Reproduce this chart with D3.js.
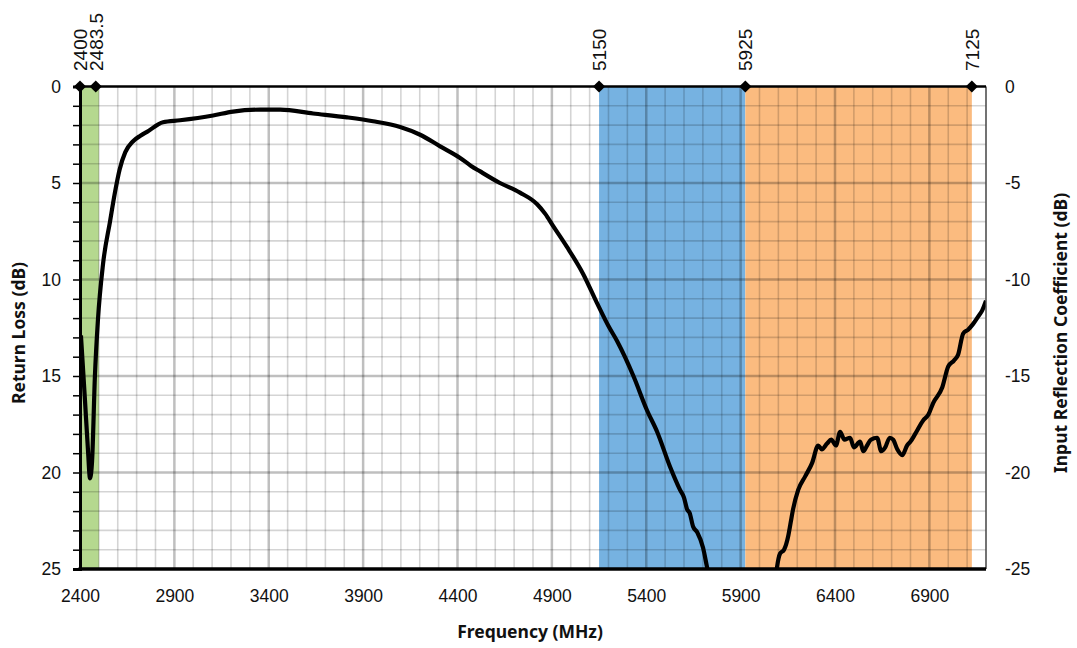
<!DOCTYPE html>
<html>
<head>
<meta charset="utf-8">
<script src="https://cdn.jsdelivr.net/npm/d3@7"></script>
<style>
  body { margin: 0; background: #fff; }
  text { font-family: "Liberation Sans", Arial, sans-serif; fill: #111; }
  .title { font-family: "Noto Sans", sans-serif; font-weight: 700; font-size: 17.5px; }
</style>
</head>
<body>
<svg id="chart"></svg>
<script>
// frequency (MHz) and return loss (dB)
var freq = [2405, 2426, 2442, 2453, 2464, 2479, 2495, 2522, 2559, 2585, 2610, 2640, 2680, 2720, 2755, 2840, 2930,
  3105, 3211, 3354, 3460, 3635, 3815, 3953, 4096, 4202, 4308, 4414, 4470, 4520, 4625, 4731, 4822,
  4865, 4908, 4979, 5065, 5138, 5199, 5246, 5332, 5405, 5458, 5526, 5579, 5600, 5616, 5630, 5648, 5670,
  5701, 5722, 5760, 5900, 6000, 6080, 6093, 6109, 6130, 6152, 6165, 6178, 6205, 6242, 6279, 6311, 6330, 6358,
  6380, 6405, 6427, 6450, 6480, 6500, 6533, 6550, 6570, 6590, 6623, 6645, 6666, 6690, 6708, 6730,
  6756, 6782, 6800, 6825, 6867, 6895, 6920, 6968, 7000, 7030, 7052, 7079, 7105, 7132, 7160, 7180, 7200];
var returnLoss = [12.9, 16.2, 18.8, 20.3, 19.4, 15.0, 12.1, 9.2, 7.0, 5.5, 4.3, 3.4, 2.85, 2.55, 2.35, 1.85, 1.75,
  1.5, 1.3, 1.2, 1.2, 1.4, 1.6, 1.8, 2.1, 2.5, 3.1, 3.7, 4.1, 4.4, 5.0, 5.5, 6.1,
  6.6, 7.25, 8.3, 9.7, 11.2, 12.4, 13.2, 15.0, 16.8, 17.9, 19.7, 20.9, 21.3, 21.9, 22.1, 22.8, 23.1,
  23.9, 24.9, 26.5, 30, 29, 26, 24.9, 24.2, 24.0, 23.3, 22.6, 21.9, 20.9, 20.2, 19.5, 18.6, 18.8, 18.5,
  18.3, 18.6, 17.9, 18.3, 18.2, 18.7, 18.4, 18.9, 18.6, 18.3, 18.2, 18.9, 18.7, 18.2, 18.3, 18.8,
  19.1, 18.6, 18.4, 18.0, 17.3, 17.0, 16.4, 15.6, 14.5, 14.2, 13.9, 12.8, 12.6, 12.3, 11.9, 11.6, 11.1];

var bandStart = [2400, 5150, 5925];
var bandEnd = [2500, 5925, 7125];
var bandColor = ["#b5d88f", "#76b2e1", "#fbbb7f"];
var markers = [2400, 2483.5, 5150, 5925, 7125];
var markerLabels = ["2400", "2483.5", "5150", "5925", "7125"];
var xTicks = [2400, 2900, 3400, 3900, 4400, 4900, 5400, 5900, 6400, 6900];
var yTicks = [0, 5, 10, 15, 20, 25];

var width = 1077, height = 648;
var pLeft = 80, pRight = 986, pTop = 86.5, pBottom = 569;

var svg = d3.select("#chart").attr("width", width).attr("height", height);
svg.append("rect").attr("width", width).attr("height", height).attr("fill", "#fff");

var x = d3.scaleLinear().domain([2400, 7200]).range([pLeft, pRight]);
var y = d3.scaleLinear().domain([0, 25]).range([pTop, pBottom]);
var y2 = d3.scaleLinear().domain([0, -25]).range([pTop, pBottom]);

// bands
svg.append("g").selectAll("rect")
  .data(bandStart)
  .enter()
  .append("rect")
  .attr("x", (d, i) => x(d))
  .attr("width", (d, i) => x(bandEnd[i]) - x(d))
  .attr("y", pTop)
  .attr("height", pBottom - pTop)
  .attr("fill", (d, i) => bandColor[i])

// grid
var grid = svg.append("g")
d3.range(2500, 7200, 100).forEach(function(f) {
  var major = (f - 2400) % 500 == 0
  grid.append("line")
    .attr("x1", x(f)).attr("x2", x(f)).attr("y1", pTop).attr("y2", pBottom)
    .attr("stroke", major ? "rgba(0,0,0,0.25)" : "rgba(0,0,0,0.17)")
    .attr("stroke-width", major ? 2.5 : 1.6)
})
d3.range(1, 25, 1).forEach(function(v) {
  var major = v % 5 == 0
  grid.append("line")
    .attr("x1", pLeft).attr("x2", pRight).attr("y1", y(v)).attr("y2", y(v))
    .attr("stroke", major ? "rgba(0,0,0,0.25)" : "rgba(0,0,0,0.17)")
    .attr("stroke-width", major ? 2.5 : 1.6)
})

// curve
svg.append("clipPath").attr("id", "plot")
  .append("rect").attr("x", pLeft).attr("y", pTop).attr("width", pRight - pLeft).attr("height", pBottom - pTop)

var line = d3.line()
  .x((d, i) => x(freq[i]))
  .y((d, i) => y(returnLoss[i]))
  .curve(d3.curveMonotoneX)

svg.append("path")
  .datum(returnLoss)
  .attr("d", line)
  .attr("clip-path", "url(#plot)")
  .attr("fill", "none")
  .attr("stroke", "#000")
  .attr("stroke-width", 4.2)
  .attr("stroke-linejoin", "round")

// frame
svg.append("line").attr("x1", pRight).attr("x2", pRight).attr("y1", pTop).attr("y2", pBottom)
  .attr("stroke", "#444").attr("stroke-width", 1.5)
svg.append("line").attr("x1", pLeft).attr("x2", pRight).attr("y1", pTop).attr("y2", pTop)
  .attr("stroke", "#000").attr("stroke-width", 2.5)

// left axis
var yAxis = d3.axisLeft(y).tickValues(d3.range(0, 26, 1)).tickSize(7)
  .tickFormat(d => yTicks.includes(d) ? d : "")
var gy = svg.append("g").attr("transform", "translate(" + pLeft + ",0)").call(yAxis)
gy.select(".domain").attr("stroke-width", 3)
gy.selectAll(".tick line").attr("stroke-width", 1.5)
gy.selectAll("text").attr("font-size", 17.5).attr("x", -19).attr("font-family", "Liberation Sans, Arial, sans-serif").attr("fill", "#111")

// right labels
svg.append("g").selectAll("text")
  .data(yTicks.map(d => -d))
  .enter()
  .append("text")
  .attr("x", 1005)
  .attr("y", d => y2(d))
  .attr("dy", "0.35em")
  .attr("font-size", 17.5)
  .text(d => d)

// bottom axis
var xAxis = d3.axisBottom(x).tickValues(xTicks).tickSize(0).tickPadding(21).tickFormat(d3.format("d"))
var gx = svg.append("g").attr("transform", "translate(0," + pBottom + ")").call(xAxis)
gx.select(".domain").attr("stroke-width", 3.5).attr("d", "M" + (pLeft - 1.5) + ",0H" + pRight)
gx.selectAll("text").attr("font-size", 17.5).attr("font-family", "Liberation Sans, Arial, sans-serif").attr("fill", "#111")

// markers on top
svg.append("g").selectAll("path")
  .data(markers)
  .enter()
  .append("path")
  .attr("d", d3.symbol().type(d3.symbolDiamond2).size(95))
  .attr("transform", d => "translate(" + x(d) + "," + pTop + ")")
  .attr("fill", "#000")

svg.append("g").selectAll("text")
  .data(markers)
  .enter()
  .append("text")
  .attr("transform", d => "translate(" + x(d) + ",71) rotate(-90)")
  .attr("dy", "0.36em")
  .attr("font-size", 19)
  .text((d, i) => markerLabels[i])

// titles
svg.append("text").attr("class", "title")
  .attr("transform", "translate(25,333) rotate(-90)")
  .attr("text-anchor", "middle")
  .text("Return Loss (dB)")
svg.append("text").attr("class", "title")
  .attr("transform", "translate(1067,333) rotate(-90)")
  .attr("text-anchor", "middle")
  .text("Input Reflection Coefficient (dB)")
svg.append("text").attr("class", "title")
  .attr("x", 530).attr("y", 638)
  .attr("text-anchor", "middle")
  .text("Frequency (MHz)")
</script>
</body>
</html>
